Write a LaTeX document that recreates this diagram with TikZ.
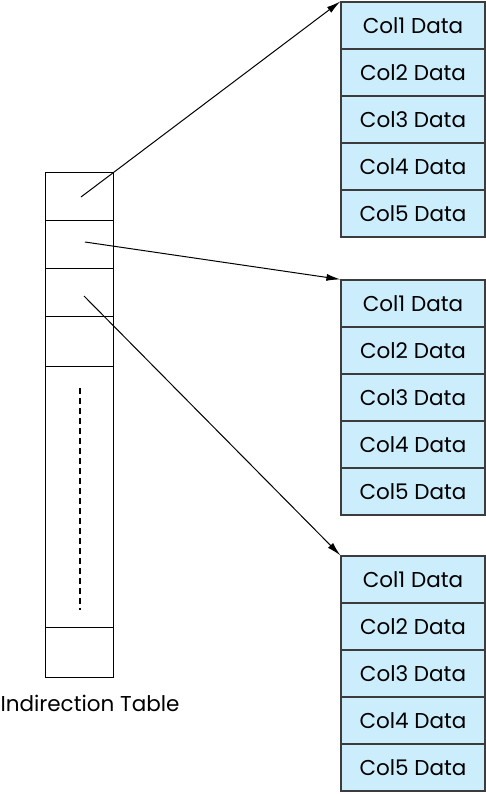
\documentclass[tikz,border=0pt]{standalone}
\usepackage{fontspec}
\setmainfont{Poppins}
\usetikzlibrary{arrows.meta}
\definecolor{cellblue}{RGB}{204,237,251}
\definecolor{cellline}{RGB}{60,60,60}
\begin{document}
\begin{tikzpicture}[x=1pt,y=-1pt,
  datacell/.style={draw=cellline,line width=1.2pt,fill=cellblue,minimum width=144pt,minimum height=47pt,inner sep=0pt,font=\fontsize{21.5}{24}\selectfont},
  tcell/.style={draw=black,line width=1pt,minimum width=68pt,inner sep=0pt},
  ptr/.style={line width=1pt,-{Latex[length=14pt,width=7pt]}}]
\useasboundingbox (0,0) rectangle (486,794);
% indirection table
\node[tcell,minimum height=48pt] (t1) at (79,197) {};
\node[tcell,minimum height=47pt] (t2) at (79,244.5) {};
\node[tcell,minimum height=48pt] (t3) at (79,292) {};
\node[tcell,minimum height=50pt] (t4) at (79,341) {};
\node[tcell,minimum height=261pt] (t5) at (79,496.5) {};
\node[tcell,minimum height=50pt] (t6) at (79,652) {};
\draw[line width=2pt,dash pattern=on 6pt off 4pt] (80,388) -- (80,610);
\node[font=\fontsize{21.5}{24}\selectfont] (lbl) at (90,703) {Indirection Table};
% data groups
\foreach \g/\top in {a/2,b/280,c/556}{
  \foreach \i in {1,...,5}{
    \node[datacell] (\g\i) at (413,{\top+23.5+47*(\i-1)}) {Col\i\ Data};
  }
}
\coordinate (p1) at (81,197);
\coordinate (p2) at (85,242);
\coordinate (p3) at (84,296);
\draw[ptr] (p1) -- (a1.north west);
\draw[ptr] (p2) -- (b1.north west);
\draw[ptr] (p3) -- (c1.north west);
\end{tikzpicture}
\end{document}
